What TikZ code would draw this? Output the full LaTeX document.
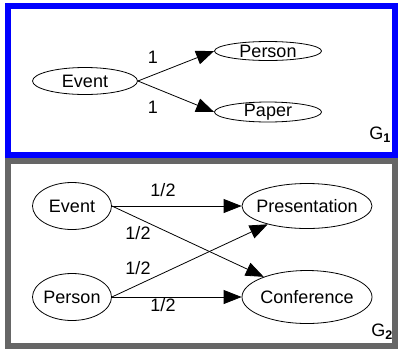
\documentclass[tikz,border=0pt]{standalone}
\usepackage{fontspec}
\setmainfont{Liberation Sans}
\usetikzlibrary{shapes.geometric,arrows.meta}
\definecolor{framegray}{RGB}{102,102,102}
\tikzset{
  ent/.style={ellipse, draw, line width=.8pt, inner sep=0pt},
  edge/.style={->, line width=.8pt}
}
\begin{document}
\begin{tikzpicture}[x=1pt, y=-1pt, >={Triangle[length=18pt,width=14pt]}, font=\fontsize{18}{21}\selectfont]
\useasboundingbox (0,0) rectangle (398,349);
% G1
\begin{scope}
\draw[blue, line width=6pt] (8,5.5) rectangle (395,154.5);
\node[ent, minimum width=105pt, minimum height=27pt, label=center:Event] (ev1) at (85,81) {};
\node[ent, minimum width=107pt, minimum height=19pt, label=center:Person] (per1) at (268,51) {};
\node[ent, minimum width=107pt, minimum height=20pt, label=center:Paper] (pap1) at (268,112) {};
\draw[edge] (ev1.east)--(per1.west);
\draw[edge] (ev1.east)--(pap1.west);
\foreach \y in {57,107}
{
    \node at (153,\y){1};
}
\node (g1) at (380,135){G\textsubscript{\bfseries 1}};
\end{scope}
% G2
\begin{scope}
\draw[framegray, line width=6pt] (8,160.5) rectangle (395,346);
\node[ent, minimum width=79pt, minimum height=47pt, label=center:Event] (ev2) at (72,206) {};
\node[ent, minimum width=79pt, minimum height=47pt, label=center:Person] (per2) at (72,297) {};
\node[ent, minimum width=130pt, minimum height=45pt, label=center:Presentation] (pres) at (307,206) {};
\node[ent, minimum width=130pt, minimum height=53pt, label=center:Conference] (conf) at (307,297) {};
\draw[edge] (ev2.east)--(pres.west);
\draw[edge] (ev2.east)--(conf);
\draw[edge] (per2.east)--(pres);
\draw[edge] (per2.east)--(conf.west);
\foreach \x/\y in {163/190,138/233,138/268,163/305}
{
    \node at (\x,\y){1/2};
}
\node (g2) at (382,332){G\textsubscript{\bfseries 2}};
\end{scope}
\end{tikzpicture}
\end{document}
